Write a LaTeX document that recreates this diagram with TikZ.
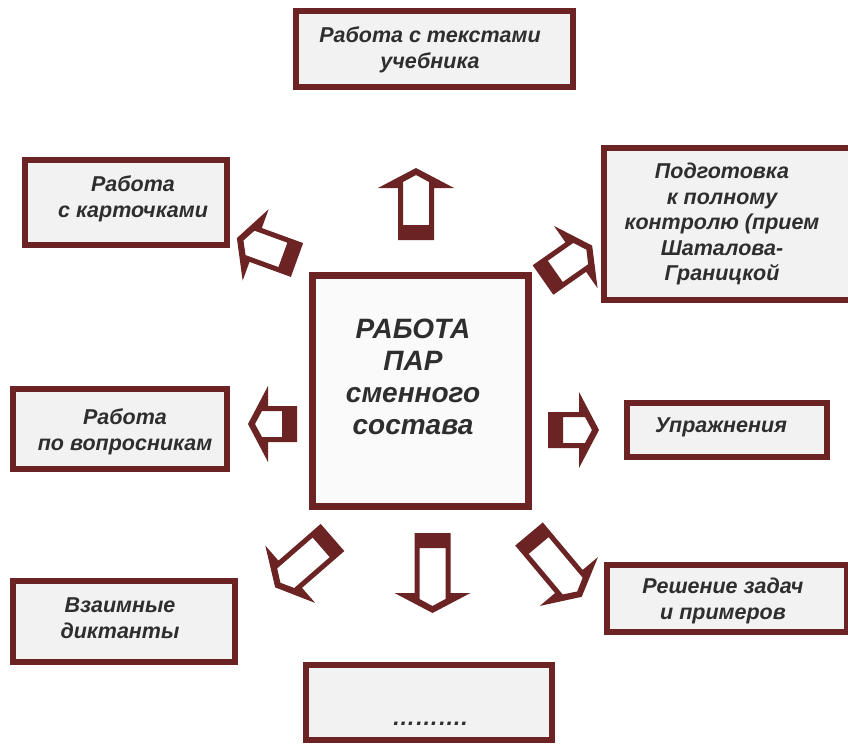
\documentclass[tikz,border=0pt]{standalone}
\usepackage{fontspec}
\setmainfont{Liberation Sans}
\definecolor{frame}{HTML}{6B2323}
\definecolor{boxfill}{HTML}{F2F2F2}
\definecolor{ink}{HTML}{2E2E2E}

% hollow block arrow: tail centre (#1,#2), direction #3 (degrees), length #4
\newcommand\blkarrow[4]{%
  \begin{scope}[shift={(#1,#2)}, rotate=#3]
    \fill[frame, even odd rule]
      (0,-18) -- ({#4-20},-18) -- ({#4-20},-38) -- (#4,0) -- ({#4-20},38) -- ({#4-20},18) -- (0,18) -- cycle
      (15,-13) -- ({#4-14},-13) -- ({#4-7},0) -- ({#4-14},13) -- (15,13) -- cycle;
  \end{scope}}

\tikzset{
  box/.style={draw=frame, fill=boxfill, line width=6pt, inner sep=0pt},
  txt/.style={text=ink, align=center, font=\fontsize{21.5}{25.5}\selectfont\bfseries\itshape},
  bigtxt/.style={text=ink, align=center, font=\fontsize{28}{32}\selectfont\bfseries\itshape},
}

\begin{document}
\begin{tikzpicture}[x=1pt, y=-1pt]
  \useasboundingbox (0,0) rectangle (848,744);
  \fill[white] (0,0) rectangle (848,744);

  % boxes: centre and size of the framed path
  \node[box, minimum width=277pt, minimum height=76pt] (top)    at (434.5,49) {};
  \node[box, minimum width=202pt, minimum height=85pt] (lu)     at (126,202.5) {};
  \node[box, minimum width=250pt, minimum height=152pt] (ru)    at (729,224) {};
  \node[box, fill=white!60!boxfill, line width=7pt, minimum width=216pt, minimum height=231pt] (centre) at (420.5,391) {};
  \node[box, minimum width=214pt, minimum height=80pt] (lm)     at (120,429) {};
  \node[box, minimum width=200pt, minimum height=54pt] (rm)     at (727,430) {};
  \node[box, minimum width=222pt, minimum height=81pt] (lb)     at (124,621.5) {};
  \node[box, minimum width=240pt, minimum height=67pt] (rb)     at (727,598.5) {};
  \node[box, minimum width=246pt, minimum height=75pt] (bottom) at (429,702.5) {};

  % texts
  \node[txt] (ttop) at (430,50) {Работа с текстами\\учебника};
  \node[txt] (tlu)  at (133,199) {Работа\\с карточками};
  \node[txt] (tru)  at (722,224) {Подготовка\\к полному\\контролю (прием\\Шаталова-\\Границкой};
  \node[bigtxt] (tc) at (413,377) {РАБОТА\\ПАР\\сменного\\состава};
  \node[txt] (tlm)  at (125,432) {Работа\\по вопросникам};
  \node[txt] (trm)  at (721,427) {Упражнения};
  \node[txt] (tlb)  at (120,618) {Взаимные\\диктанты};
  \node[txt] (trb)  at (723,601) {Решение задач\\и примеров};
  \node[txt, font=\fontsize{23}{25}\selectfont\bfseries\itshape] (tbot) at (430,724) {……….};

  % block arrows around the centre
  \blkarrow{416}{240}{90}{72}
  \blkarrow{297}{260}{160}{64}
  \blkarrow{543}{280}{35}{60}
  \blkarrow{297}{424}{180}{49}
  \blkarrow{548}{430}{0}{51}
  \blkarrow{332.5}{537.5}{221}{76}
  \blkarrow{432.5}{533}{-90}{80}
  \blkarrow{529}{534}{-50}{82}
\end{tikzpicture}
\end{document}
